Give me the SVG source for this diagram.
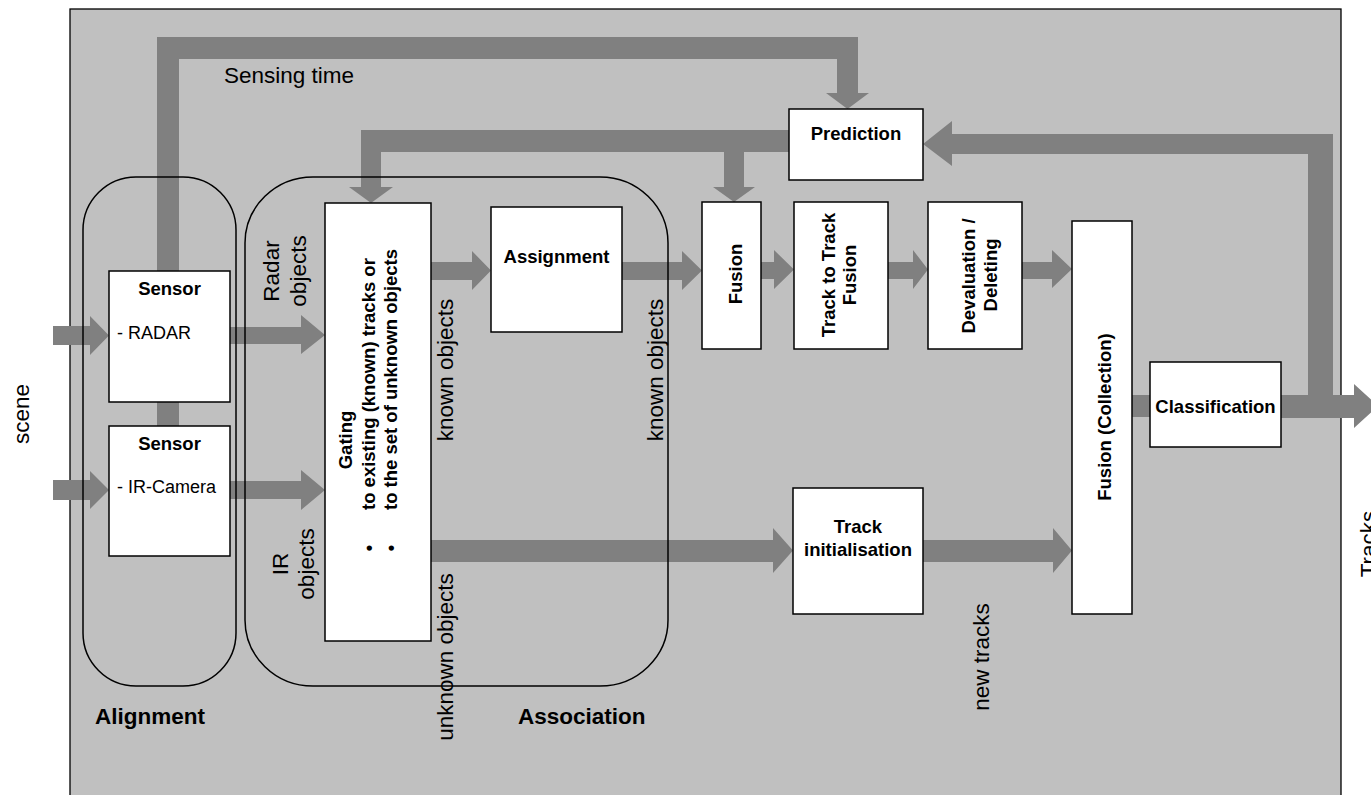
<svg xmlns="http://www.w3.org/2000/svg" width="1371" height="795" viewBox="0 0 1371 795">
<style>
  .bg{fill:#c0c0c0;stroke:#000;stroke-width:1.3}
  .flow{fill:#808080;stroke:none}
  .box{fill:#fff;stroke:#000;stroke-width:1.5}
  .grp{fill:none;stroke:#000;stroke-width:1.5}
  text{font-family:"Liberation Sans",Arial,sans-serif;fill:#000}
  .b{font-weight:bold;font-size:18.5px}
  .r{font-size:18px}
  .lbl{font-size:22.5px}
  .glbl{font-size:22.5px;font-weight:bold}
</style>
<rect width="1371" height="795" fill="#fff"/>
<rect class="bg" x="70" y="9" width="1271" height="800"/>

<!-- block arrows -->
<g id="connectors" class="flow">
  <!-- sensing time: sensor up and over to prediction -->
  <polygon points="157,271 157,37 858,37 858,93 869,93 847.5,109 826,93 837,93 837,59 179,59 179,271"/>
  <rect x="157" y="401" width="22" height="26"/>
  <!-- prediction back to gating and fusion -->
  <polygon points="789,130 361,130 361,187 349,187 371,203 393,187 381,187 381,152 789,152"/>
  <polygon points="724,151 724,187 713,187 734,202 755,187 744,187 744,151"/>
  <!-- tracks feedback to prediction -->
  <polygon points="1333,396 1333,134 952,134 952,121 923,144 952,166 952,154 1308,154 1308,396"/>
  <!-- classification output -->
  <polygon points="1281,395 1354,395 1354,384 1378,406 1354,428 1354,418 1281,418"/>
  <rect x="1131" y="395" width="20" height="22"/>
  <!-- scene inputs -->
  <polygon points="53,326 90,326 90,316 109,335.5 90,355 90,345 53,345"/>
  <polygon points="53,480 90,480 90,471 109,490 90,509 90,500 53,500"/>
  <!-- sensors to gating -->
  <polygon points="230,327 301,327 301,315 325,335 301,354 301,344 230,344"/>
  <polygon points="230,481 301,481 301,470 325,490 301,510 301,499 230,499"/>
  <!-- known objects path -->
  <polygon points="431,262 472,262 472,251 491,270.5 472,290 472,280 431,280"/>
  <polygon points="622,262 682,262 682,251 702,270.5 682,290 682,280 622,280"/>
  <polygon points="761,262 774,262 774,250 794,269.5 774,289 774,279 761,279"/>
  <polygon points="888,262 913,262 913,250 928,269.5 913,289 913,279 888,279"/>
  <polygon points="1022,262 1052,262 1052,250 1072,269 1052,288 1052,279 1022,279"/>
  <!-- unknown objects path -->
  <polygon points="431,540 773,540 773,528 793,550.5 773,573 773,562 431,562"/>
  <polygon points="923,540 1053,540 1053,528 1072,550.5 1053,573 1053,562 923,562"/>
</g>

<g id="alignment">
  <rect class="grp" x="83" y="177" width="153" height="509" rx="53" ry="53"/>
  <text class="glbl" x="95" y="724">Alignment</text>
</g>
<g id="association">
  <rect class="grp" x="245" y="177" width="423" height="509" rx="68" ry="66"/>
  <text class="glbl" x="518" y="724">Association</text>
</g>

<g id="sensor-radar">
  <rect class="box" x="109" y="271" width="121" height="131"/>
  <text class="b" x="169.5" y="295" text-anchor="middle">Sensor</text>
  <text class="r" x="117" y="339">- RADAR</text>
</g>
<g id="sensor-ir">
  <rect class="box" x="109" y="426" width="121" height="130"/>
  <text class="b" x="169.5" y="450" text-anchor="middle">Sensor</text>
  <text class="r" x="117" y="493">- IR-Camera</text>
</g>
<g id="gating">
  <rect class="box" x="325" y="203" width="106" height="438"/>
  <text class="b" transform="translate(352,440) rotate(-90)" text-anchor="middle">Gating</text>
  <text class="b" transform="translate(375,510) rotate(-90)">to existing (known) tracks or</text>
  <text class="b" transform="translate(397,510) rotate(-90)">to the set of unknown objects</text>
  <text class="b" transform="translate(375,548) rotate(-90)" text-anchor="middle">•</text>
  <text class="b" transform="translate(397,548) rotate(-90)" text-anchor="middle">•</text>
</g>
<g id="assignment">
  <rect class="box" x="491" y="207" width="131" height="125"/>
  <text class="b" x="556.5" y="263" text-anchor="middle">Assignment</text>
</g>
<g id="prediction">
  <rect class="box" x="789" y="109" width="134" height="71"/>
  <text class="b" x="856" y="140" text-anchor="middle">Prediction</text>
</g>
<g id="fusion">
  <rect class="box" x="702" y="202" width="59" height="147"/>
  <text class="b" transform="translate(742,274) rotate(-90)" text-anchor="middle">Fusion</text>
</g>
<g id="track-to-track">
  <rect class="box" x="794" y="202" width="94" height="147"/>
  <text class="b" transform="translate(835,275) rotate(-90)" text-anchor="middle">Track to Track</text>
  <text class="b" transform="translate(856,275) rotate(-90)" text-anchor="middle">Fusion</text>
</g>
<g id="devaluation">
  <rect class="box" x="928" y="202" width="94" height="147"/>
  <text class="b" transform="translate(975,276) rotate(-90)" text-anchor="middle">Devaluation /</text>
  <text class="b" transform="translate(997,275) rotate(-90)" text-anchor="middle">Deleting</text>
</g>
<g id="track-init">
  <rect class="box" x="793" y="488" width="130" height="126"/>
  <text class="b" x="858" y="533" text-anchor="middle">Track</text>
  <text class="b" x="858" y="556" text-anchor="middle">initialisation</text>
</g>
<g id="fusion-collection">
  <rect class="box" x="1072" y="221" width="60" height="393"/>
  <text class="b" transform="translate(1111,417) rotate(-90)" text-anchor="middle">Fusion (Collection)</text>
</g>
<g id="classification">
  <rect class="box" x="1150" y="362" width="131" height="85"/>
  <text class="b" x="1215.5" y="413" text-anchor="middle">Classification</text>
</g>

<g id="labels" class="lbl">
  <text class="lbl" x="224" y="83">Sensing time</text>
  <text class="lbl" transform="translate(29,414) rotate(-90)" text-anchor="middle">scene</text>
  <text class="lbl" transform="translate(279,271) rotate(-90)" text-anchor="middle">Radar</text>
  <text class="lbl" transform="translate(306,271) rotate(-90)" text-anchor="middle">objects</text>
  <text class="lbl" transform="translate(288,564) rotate(-90)" text-anchor="middle">IR</text>
  <text class="lbl" transform="translate(314,564) rotate(-90)" text-anchor="middle">objects</text>
  <text class="lbl" transform="translate(453,370) rotate(-90)" text-anchor="middle">known objects</text>
  <text class="lbl" transform="translate(663,370) rotate(-90)" text-anchor="middle">known objects</text>
  <text class="lbl" transform="translate(453,657) rotate(-90)" text-anchor="middle">unknown objects</text>
  <text class="lbl" transform="translate(989,657) rotate(-90)" text-anchor="middle">new tracks</text>
  <text class="lbl" transform="translate(1376,544) rotate(-90)" text-anchor="middle">Tracks</text>
</g>
</svg>
